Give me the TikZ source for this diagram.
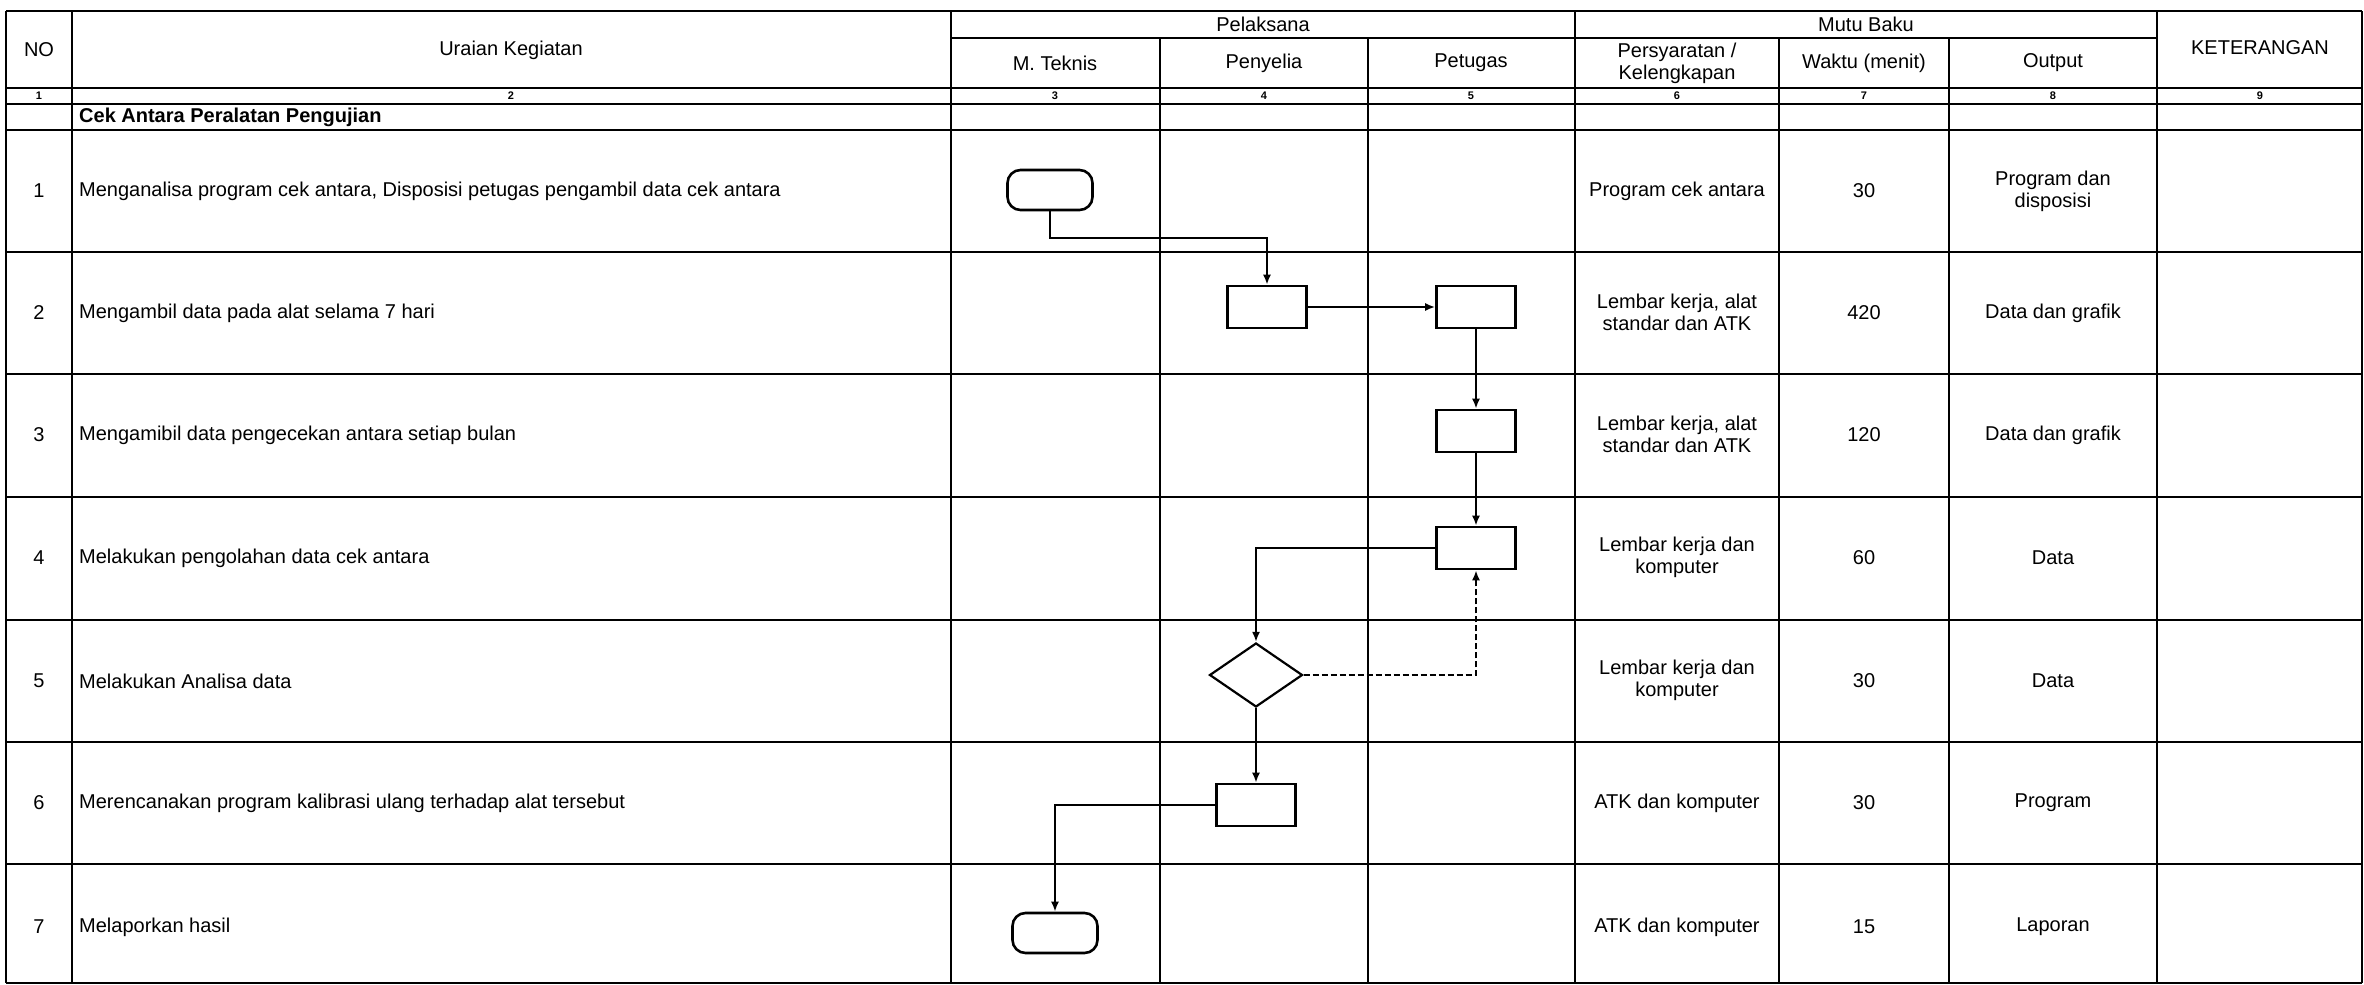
\documentclass[tikz,border=0pt]{standalone}
\usepackage{fontspec}
\setmainfont{Liberation Sans}
\usetikzlibrary{shapes.geometric,arrows.meta,calc}
\tikzset{
  tbl/.style={line width=2.4pt},
  txt/.style={font=\fontsize{20}{22}\selectfont, inner sep=0pt, align=center},
  ltxt/.style={font=\fontsize{20}{22}\selectfont, inner sep=0pt, anchor=west},
  numlbl/.style={font=\bfseries\fontsize{11}{12}\selectfont, inner sep=0pt},
  term/.style={draw, line width=2.6pt, rounded corners=13pt, minimum width=85pt, minimum height=40pt, inner sep=0pt},
  proc/.style={draw, line width=2.6pt, minimum width=79pt, minimum height=42pt, inner sep=0pt},
  dec/.style={draw, diamond, line width=2.2pt, minimum width=93pt, minimum height=64pt, inner sep=0pt},
  conn/.style={line width=2.2pt, -{Latex[length=10pt,width=8pt]}},
}
\begin{document}
\begin{tikzpicture}[x=1pt,y=-1pt]
\useasboundingbox (0,0) rectangle (2364,985);
% table lines
\foreach \yy in {11,88,104,130,252,374,497,620,742,864,983}
  \draw[tbl] (6,\yy) -- (2362,\yy);
\draw[tbl] (951,38) -- (2157,38);
\foreach \xx in {6,72,951,1575,2157}
  \draw[tbl] (\xx,11) -- (\xx,983);
\foreach \xx in {1160,1368,1779,1949}
  \draw[tbl] (\xx,38) -- (\xx,983);
\draw[line width=1.2pt] (2362,11) -- (2362,983);
% header
\node[txt] (hno) at (39,50) {NO};
\node[txt] (hur) at (511,50) {Uraian Kegiatan};
\node[txt] (hpel) at (1263,24) {Pelaksana};
\node[txt] (hmutu) at (1866,24) {Mutu Baku};
\node[txt] (hmt) at (1055,63) {M. Teknis};
\node[txt] (hpy) at (1264,63) {Penyelia};
\node[txt] (hpt) at (1471,63) {Petugas};
\node[txt] (hps) at (1677,63) {Persyaratan /\\Kelengkapan};
\node[txt] (hwk) at (1864,63) {Waktu (menit)};
\node[txt] (hout) at (2053,63) {Output};
\node[txt] (hket) at (2260,48) {KETERANGAN};
% number row
\node[numlbl] (n1) at (39,96) {1};
\node[numlbl] (n2) at (511,96) {2};
\node[numlbl] (n3) at (1055,96) {3};
\node[numlbl] (n4) at (1264,96) {4};
\node[numlbl] (n5) at (1471,96) {5};
\node[numlbl] (n6) at (1677,96) {6};
\node[numlbl] (n7) at (1864,96) {7};
\node[numlbl] (n8) at (2053,96) {8};
\node[numlbl] (n9) at (2260,96) {9};
\node[ltxt, font=\bfseries\fontsize{20}{22}\selectfont] (cek) at (79,117) {Cek Antara Peralatan Pengujian};
% rows
\node[txt] (r1n) at (39,191) {1};
\node[ltxt] (r1t) at (79,191) {Menganalisa program cek antara, Disposisi petugas pengambil data cek antara};
\node[txt] (r1p) at (1677,191) {Program cek antara};
\node[txt] (r1w) at (1864,191) {30};
\node[txt] (r1o) at (2053,191) {Program dan\\disposisi};
\node[txt] (r2n) at (39,313) {2};
\node[ltxt] (r2t) at (79,313) {Mengambil data pada alat selama 7 hari};
\node[txt] (r2p) at (1677,312) {Lembar kerja, alat\\standar dan ATK};
\node[txt] (r2w) at (1864,313) {420};
\node[txt] (r2o) at (2053,313) {Data dan grafik};
\node[txt] (r3n) at (39,435) {3};
\node[ltxt] (r3t) at (79,435) {Mengamibil data pengecekan antara setiap bulan};
\node[txt] (r3p) at (1677,434) {Lembar kerja, alat\\standar dan ATK};
\node[txt] (r3w) at (1864,435) {120};
\node[txt] (r3o) at (2053,435) {Data dan grafik};
\node[txt] (r4n) at (39,558) {4};
\node[ltxt] (r4t) at (79,558) {Melakukan pengolahan data cek antara};
\node[txt] (r4p) at (1677,557) {Lembar kerja dan\\komputer};
\node[txt] (r4w) at (1864,558) {60};
\node[txt] (r4o) at (2053,558) {Data};
\node[txt] (r5n) at (39,681) {5};
\node[ltxt] (r5t) at (79,681) {Melakukan Analisa data};
\node[txt] (r5p) at (1677,680) {Lembar kerja dan\\komputer};
\node[txt] (r5w) at (1864,681) {30};
\node[txt] (r5o) at (2053,681) {Data};
\node[txt] (r6n) at (39,803) {6};
\node[ltxt] (r6t) at (79,803) {Merencanakan program kalibrasi ulang terhadap alat tersebut};
\node[txt] (r6p) at (1677,803) {ATK dan komputer};
\node[txt] (r6w) at (1864,803) {30};
\node[txt] (r6o) at (2053,803) {Program};
\node[txt] (r7n) at (39,927) {7};
\node[ltxt] (r7t) at (79,927) {Melaporkan hasil};
\node[txt] (r7p) at (1677,927) {ATK dan komputer};
\node[txt] (r7w) at (1864,927) {15};
\node[txt] (r7o) at (2053,927) {Laporan};
% flowchart
\node[term] (start) at (1050,190) {};
\node[proc] (bA) at (1267,307) {};
\node[proc] (bB) at (1476,307) {};
\node[proc] (bC) at (1476,431) {};
\node[proc] (bD) at (1476,548) {};
\node[dec] (dia) at (1256,675) {};
\node[proc] (bE) at (1256,805) {};
\node[term] (end) at (1055,933) {};
\draw[conn] (start.south) -- ++(0,27) -| (bA.north);
\draw[conn] (bA.east) -- (bB.west);
\draw[conn] (bB.south) -- (bC.north);
\draw[conn] (bC.south) -- (bD.north);
\draw[conn] (bD.west) -| (dia.north);
\draw[conn, dash pattern=on 6pt off 3pt] (dia.east) -| (bD.south);
\draw[conn] (dia.south) -- (bE.north);
\draw[conn] (bE.west) -| (end.north);
\end{tikzpicture}
\end{document}
